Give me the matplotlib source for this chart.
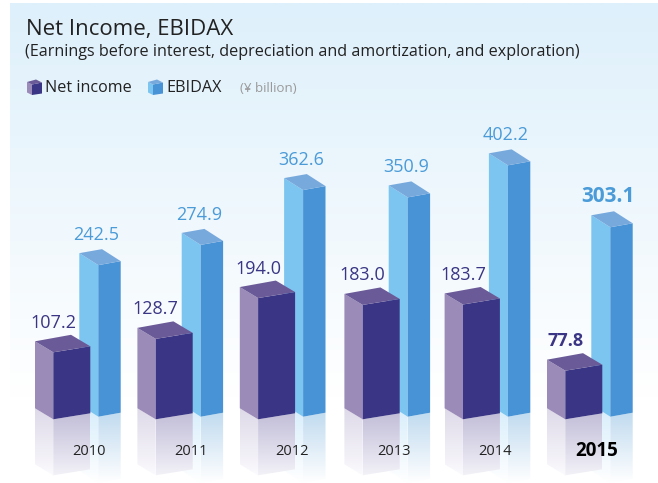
import numpy as np
import matplotlib
matplotlib.use("Agg")
import matplotlib.pyplot as plt
from matplotlib.patches import Polygon
from matplotlib.transforms import Affine2D

years = [2010, 2011, 2012, 2013, 2014, 2015]
net_income = [107.2, 128.7, 194.0, 183.0, 183.7, 77.8]
ebidax = [242.5, 274.9, 362.6, 350.9, 402.2, 303.1]

W, H = 658, 483
plt.rcParams['font.family'] = ['Open Sans', 'DejaVu Sans']
fig = plt.figure(figsize=(W/100, H/100), dpi=100)
ax = fig.add_axes([0, 0, 1, 1])
PX_X, PX_Y = 102.4, 0.625
X0, Y0 = 53.3, 419.3
ax.set_xlim(2010 - X0/PX_X, 2010 + (W - X0)/PX_X)
ax.set_ylim((Y0 - H)/PX_Y, Y0/PX_Y)
ax.axis('off')
px = Affine2D().scale(1, -1).translate(0, H)

NAVY = '#3A3584'
BLUE = '#4A9BD8'


def grad(clip, top_col, bot_col, y0, y1, x0, x1, trans, z):
    c0 = np.array(matplotlib.colors.to_rgba(top_col))
    c1 = np.array(matplotlib.colors.to_rgba(bot_col))
    t = np.linspace(0, 1, 64)[:, None, None]
    img = (c0[None, None, :] * (1 - t) + c1[None, None, :] * t)
    im = ax.imshow(img, extent=[x0, x1, y1, y0], transform=trans, aspect='auto', zorder=z, interpolation='bilinear')
    poly = Polygon(clip, closed=True, transform=trans, fc='none', ec='none')
    ax.add_patch(poly)
    im.set_clip_path(poly)


def bar3d(year, value, fx_off, base_off, dl, dr, left_rise, right_rise, top_rise, back_dx,
          cols, refl, refl_len_f, refl_len_l, z):
    fx = year + fx_off / PX_X
    b = -base_off / PX_Y
    t = b + value
    dxl, dxr = dl / PX_X, dr / PX_X
    lr, rr, tr = left_rise / PX_Y, right_rise / PX_Y, top_rise / PX_Y
    bdx = back_dx / PX_X
    data = ax.transData
    rl = refl_len_f / PX_Y
    rs = refl_len_l / PX_Y
    left_r = [(fx - dxl, b + lr), (fx, b), (fx, b - rl), (fx - dxl, b + lr - rs)]
    right_r = [(fx, b), (fx + dxr, b + rr), (fx + dxr, b + rr - rl), (fx, b - rl)]
    ylo = b - rl - 1
    yhi = b + lr
    grad(left_r, refl[0], refl[1], yhi, ylo, fx - dxl, fx, data, z)
    grad(right_r, refl[2], refl[3], yhi, ylo, fx, fx + dxr, data, z)
    ax.add_patch(Polygon([(fx - dxl, b + lr), (fx, b), (fx, t), (fx - dxl, t + lr)], fc=cols[0], ec='none', zorder=z + 1))
    ax.add_patch(Polygon([(fx, b), (fx + dxr, b + rr), (fx + dxr, t + rr), (fx, t)], fc=cols[1], ec='none', zorder=z + 1))
    ax.add_patch(Polygon([(fx, t), (fx + dxr, t + rr), (fx + bdx, t + tr), (fx - dxl, t + lr)], fc=cols[2], ec='none', zorder=z + 1))
    return fx, t + tr


# background
grad([(10, 3), (W, 3), (W, 440), (10, 440)], '#DEF0FB', '#FFFFFF', 3, 400, 10, W, px, 0)
ax.set_xlim(2010 - X0/PX_X, 2010 + (W - X0)/PX_X)
ax.set_ylim((Y0 - H)/PX_Y, Y0/PX_Y)

net_cols = ['#9B8BB9', NAVY, '#6A5A97']
eb_cols = ['#7CC5F1', '#4893D5', '#78A9DD']
net_ref = ['#DEDAE9', '#FBFAFD', '#BEBAD6', '#F3F2F8']
eb_ref = ['#D6EDFB', '#FFFFFF', '#BAD7EE', '#FFFFFF']

for i, yr in enumerate(years):
    bold = yr == 2015
    nudge = 2.2 if yr == 2013 else 0
    fx, ty = bar3d(yr, ebidax[i], 45 + nudge, -2.6, 19, 22.4, 12, 4, 16, 3.7, eb_cols, eb_ref, 66, 66, 2)
    ax.annotate(f'{ebidax[i]:.1f}', (fx, ty), xytext=(-2, 9), textcoords='offset pixels',
                ha='center', va='baseline', color=BLUE,
                fontsize=15 if bold else 13, fontweight='bold' if bold else 'normal', zorder=8)
    fx, ty = bar3d(yr, net_income[i], nudge, 0, 18.3, 37, 11, 6, 17.5, 17.7, net_cols, net_ref, 56, 56, 4)
    ax.annotate(f'{net_income[i]:.1f}', (fx, ty), xytext=(0, 7), textcoords='offset pixels',
                ha='center', va='baseline', color=NAVY,
                fontsize=13, fontweight='bold' if bold else 'normal', zorder=8)
    ax.annotate(str(yr), (yr, 0), xytext=(36 - 0.85 * i, -32), textcoords='offset pixels',
                ha='center', va='center', color='black' if bold else '#222222',
                fontsize=13.5 if bold else 10.5, fontweight='bold' if bold else 'normal', zorder=9)

# title and legend
ax.text(26, 30, 'Net Income, EBIDAX', transform=px, fontsize=16, color='#222222', ha='left', va='center')
ax.text(25, 52, '(Earnings before interest, depreciation and amortization, and exploration)',
        transform=px, fontsize=11.6, color='#222222', ha='left', va='center')


def cube(x, y, cols):
    ax.add_patch(Polygon([(x, y + 2.5), (x + 5, y + 5), (x + 5, y + 15.5), (x, y + 13)], fc=cols[0], ec='none', transform=px, zorder=5))
    ax.add_patch(Polygon([(x + 5, y + 5), (x + 15, y + 3), (x + 15, y + 14), (x + 5, y + 15.5)], fc=cols[1], ec='none', transform=px, zorder=5))
    ax.add_patch(Polygon([(x, y + 2.5), (x + 9, y), (x + 15, y + 3), (x + 5, y + 5)], fc=cols[2], ec='none', transform=px, zorder=5))


cube(27, 79.5, net_cols)
cube(148, 79.5, eb_cols)
ax.text(45, 87.5, 'Net income', transform=px, fontsize=11.6, color='#222222', va='center')
ax.text(166, 87.5, 'EBIDAX', transform=px, fontsize=11.6, color='#222222', va='center')
ax.text(240, 88, '(¥ billion)', transform=px, fontsize=9.6, color='#9A9A9A', va='center')

fig.savefig('out.png', dpi=100)
